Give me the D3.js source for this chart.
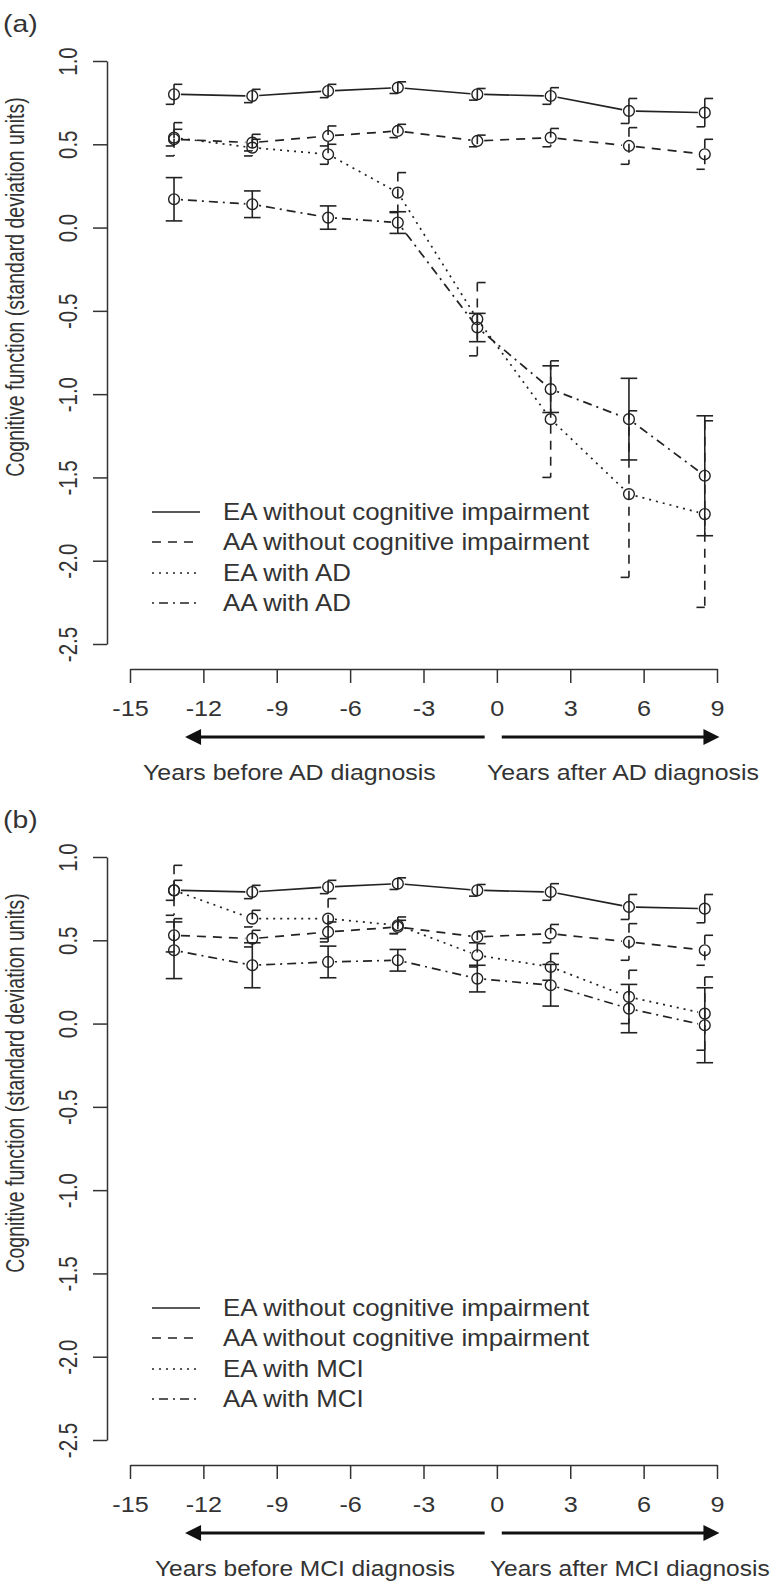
<!DOCTYPE html>
<html><head><meta charset="utf-8">
<script src="https://cdn.jsdelivr.net/npm/d3@7"></script>
<style>
body{margin:0;background:#fff}
svg{display:block}
text{font-family:"Liberation Sans",Arial,sans-serif;fill:#333}
</style>
</head><body>
<svg id="c" width="780" height="1588"></svg>
<script>
// ---------- data ----------
const years = [-13.2, -10.0, -6.9, -4.05, -0.8, 2.2, 5.4, 8.5];
const xTicks = [-15, -12, -9, -6, -3, 0, 3, 6, 9];
const yTicks = [1.0, 0.5, 0.0, -0.5, -1.0, -1.5, -2.0, -2.5];

const eaNoCI    = [0.80, 0.79, 0.82, 0.84, 0.80, 0.79, 0.70, 0.69];
const eaNoCIErr = [0.06, 0.04, 0.04, 0.035, 0.035, 0.05, 0.075, 0.085];
const aaNoCI    = [0.53, 0.51, 0.55, 0.58, 0.52, 0.54, 0.49, 0.44];
const aaNoCIErr = [0.10, 0.05, 0.06, 0.04, 0.035, 0.055, 0.11, 0.09];

const eaAD    = [0.54, 0.48, 0.44, 0.21, -0.55, -1.15, -1.60, -1.72];
const eaADErr = [0.05, 0.05, 0.06, 0.12, 0.22, 0.35, 0.50, 0.56];
const aaAD    = [0.17, 0.14, 0.06, 0.03, -0.60, -0.97, -1.15, -1.49];
const aaADErr = [0.13, 0.08, 0.07, 0.065, 0.085, 0.14, 0.245, 0.36];

const eaMCI    = [0.80, 0.63, 0.63, 0.59, 0.41, 0.34, 0.16, 0.06];
const eaMCIErr = [0.15, 0.05, 0.12, 0.05, 0.07, 0.08, 0.16, 0.22];
const aaMCI    = [0.44, 0.35, 0.37, 0.38, 0.27, 0.23, 0.09, -0.01];
const aaMCIErr = [0.17, 0.135, 0.095, 0.065, 0.08, 0.125, 0.145, 0.225];

const legendA = ["EA without cognitive impairment", "AA without cognitive impairment", "EA with AD", "AA with AD"];
const legendB = ["EA without cognitive impairment", "AA without cognitive impairment", "EA with MCI", "AA with MCI"];
const titlesA = ["Years before AD diagnosis", "Years after AD diagnosis"];
const titlesB = ["Years before MCI diagnosis", "Years after MCI diagnosis"];
const yLabel = "Cognitive function (standard deviation units)";

// ---------- styles ----------
const INK = "#222";
const DASHED = "9,7", DOTTED = "2,5", DOTDASH = "2,5,9,5";
const styles = [
  {dash: null,    bar: null,   cap: "half"},
  {dash: DASHED,  bar: DASHED, cap: "half"},
  {dash: DOTTED,  bar: DASHED, cap: "half"},
  {dash: DOTDASH, bar: null,   cap: "full"}
];

const svg = d3.select("#c");

function stext(g, x, y, str, fs, sx, anchor) {
  return g.append("text")
    .attr("transform", `translate(${x},${y}) scale(${sx},1)`)
    .attr("font-size", fs).attr("text-anchor", anchor || "start").text(str);
}

function panel(off, series, legend, tag, titles, titleX, titleSx) {
  const g = svg.append("g").attr("transform", `translate(0,${off})`);
  const x = d3.scaleLinear().domain([-15, 9]).range([130, 717]);
  const y = d3.scaleLinear().domain([-2.5, 1]).range([644, 61]);

  // tag
  stext(g, 3, 31.7, tag, 24, 1.18);

  // y axis
  const ya = g.append("g").attr("transform", "translate(107,0)")
    .call(d3.axisLeft(y).tickValues(yTicks).tickSize(14).tickSizeOuter(0).tickFormat(d => d.toFixed(1)));
  ya.attr("font-family", null).attr("font-size", null);
  ya.selectAll("path,line").attr("stroke", "#333").attr("stroke-width", 1.5);
  ya.selectAll("text").attr("x", null).attr("dy", null).attr("y", -24)
    .attr("transform", "scale(1.25,1) rotate(-90)")
    .attr("text-anchor", "middle").attr("font-size", 20.5).attr("fill", "#333");

  // y label
  g.append("text").attr("transform", "translate(24,287) scale(1.32,1) rotate(-90)")
    .attr("text-anchor", "middle").attr("font-size", 19.5).text(yLabel);

  // x axis
  const xa = g.append("g").attr("transform", "translate(0,669)")
    .call(d3.axisBottom(x).tickValues(xTicks).tickSize(14).tickSizeOuter(0).tickFormat(d => String(d)));
  xa.attr("font-family", null).attr("font-size", null);
  xa.selectAll("path,line").attr("stroke", "#333").attr("stroke-width", 1.5);
  xa.selectAll("text").attr("y", 47).attr("dy", null)
    .attr("transform", "scale(1.12,1)")
    .attr("font-size", 22.5).attr("fill", "#333");

  // arrows
  const ay = 737, hl = 16, hw = 8;
  const lTip = x(-12.75), lEnd = x(-0.5), rStart = x(0.2), rTip = x(9.1);
  g.append("line").attr("x1", lEnd).attr("x2", lTip + hl - 2).attr("y1", ay).attr("y2", ay)
    .attr("stroke", "#111").attr("stroke-width", 3);
  g.append("path").attr("d", `M${lTip},${ay} L${lTip + hl},${ay - hw} L${lTip + hl},${ay + hw} Z`).attr("fill", "#111");
  g.append("line").attr("x1", rStart).attr("x2", rTip - hl + 2).attr("y1", ay).attr("y2", ay)
    .attr("stroke", "#111").attr("stroke-width", 3);
  g.append("path").attr("d", `M${rTip},${ay} L${rTip - hl},${ay - hw} L${rTip - hl},${ay + hw} Z`).attr("fill", "#111");

  // x titles
  stext(g, titleX[0], 780, titles[0], 21.5, titleSx);
  stext(g, titleX[1], 780, titles[1], 21.5, titleSx);

  // series
  const R = 5.4;
  series.forEach((s, si) => {
    const st = styles[si];
    const pts = s.vals.map((v, i) => [x(years[i]), y(v)]);
    for (let i = 0; i < pts.length - 1; i++) {
      const [x1, y1] = pts[i], [x2, y2] = pts[i + 1];
      const L = Math.hypot(x2 - x1, y2 - y1), gap = R + 1.5;
      if (L <= 2 * gap) continue;
      const ux = (x2 - x1) / L, uy = (y2 - y1) / L;
      g.append("line")
        .attr("x1", x1 + ux * gap).attr("y1", y1 + uy * gap)
        .attr("x2", x2 - ux * gap).attr("y2", y2 - uy * gap)
        .attr("stroke", INK).attr("stroke-width", 1.7)
        .attr("stroke-dasharray", st.dash);
    }
    s.vals.forEach((v, i) => {
      const cx = x(years[i]);
      const top = y(v + s.err[i]), bot = y(v - s.err[i]);
      const cw = 8.3;
      g.append("line").attr("x1", cx).attr("x2", cx).attr("y1", top).attr("y2", bot)
        .attr("stroke", INK).attr("stroke-width", 1.6).attr("stroke-dasharray", st.bar);
      if (st.cap === "full") {
        g.append("line").attr("x1", cx - cw).attr("x2", cx + cw).attr("y1", top).attr("y2", top)
          .attr("stroke", INK).attr("stroke-width", 1.6);
        g.append("line").attr("x1", cx - cw).attr("x2", cx + cw).attr("y1", bot).attr("y2", bot)
          .attr("stroke", INK).attr("stroke-width", 1.6);
      } else {
        g.append("line").attr("x1", cx).attr("x2", cx + cw).attr("y1", top).attr("y2", top)
          .attr("stroke", INK).attr("stroke-width", 1.6);
        g.append("line").attr("x1", cx - cw).attr("x2", cx).attr("y1", bot).attr("y2", bot)
          .attr("stroke", INK).attr("stroke-width", 1.6);
      }
    });
    g.selectAll(null).data(pts).enter().append("circle")
      .attr("cx", d => d[0]).attr("cy", d => d[1]).attr("r", R)
      .attr("fill", "none").attr("stroke", INK).attr("stroke-width", 1.4);
  });

  // legend
  const ly = [512, 542, 573, 603];
  legend.forEach((lab, i) => {
    g.append("line").attr("x1", 152).attr("x2", 200).attr("y1", ly[i]).attr("y2", ly[i])
      .attr("stroke", INK).attr("stroke-width", 1.6).attr("stroke-dasharray", styles[i].dash);
    stext(g, 223, ly[i] + 7.6, lab, 23.5, 1.1);
  });
}

panel(0, [
  {vals: eaNoCI, err: eaNoCIErr},
  {vals: aaNoCI, err: aaNoCIErr},
  {vals: eaAD, err: eaADErr},
  {vals: aaAD, err: aaADErr}
], legendA, "(a)", titlesA, [143, 487], 1.16);

panel(796, [
  {vals: eaNoCI, err: eaNoCIErr},
  {vals: aaNoCI, err: aaNoCIErr},
  {vals: eaMCI, err: eaMCIErr},
  {vals: aaMCI, err: aaMCIErr}
], legendB, "(b)", titlesB, [155, 490], 1.14);
</script>
</body></html>
